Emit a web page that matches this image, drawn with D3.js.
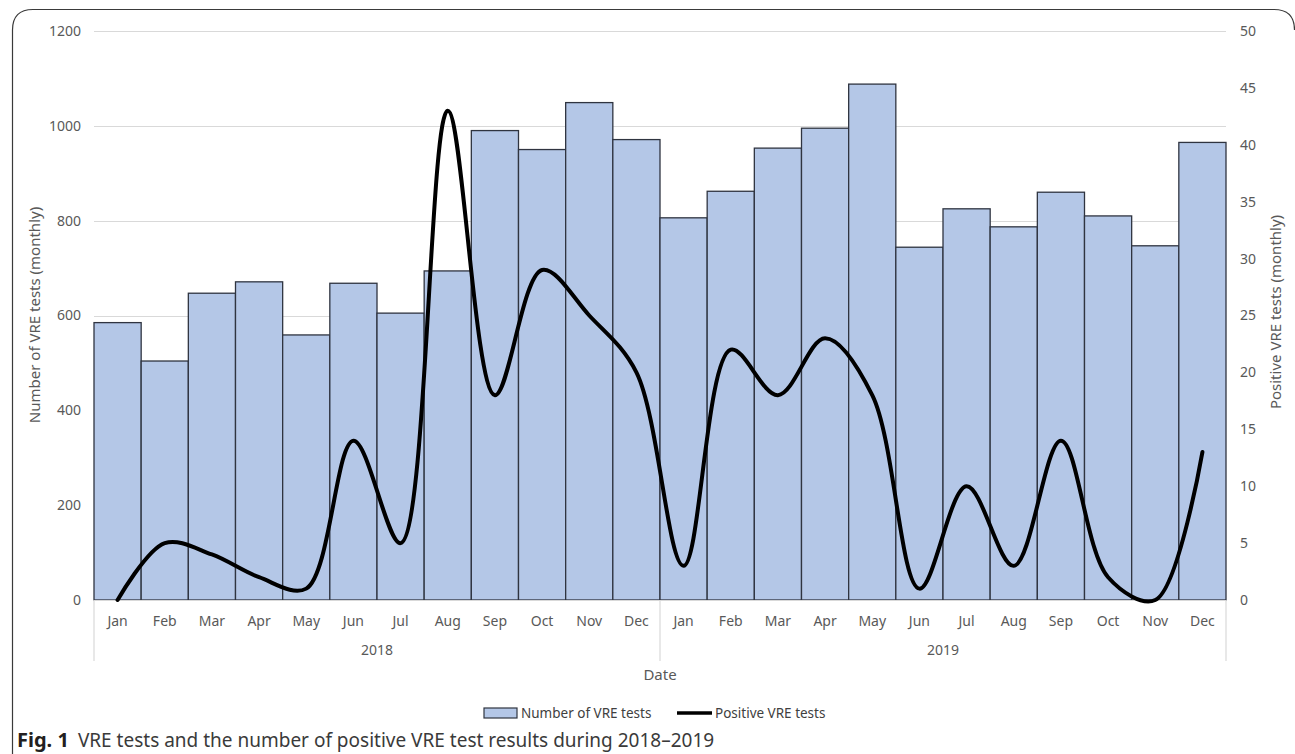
<!DOCTYPE html>
<html>
<head>
<meta charset="utf-8">
<script src="https://cdn.jsdelivr.net/npm/d3@7"></script>
<style>
  html, body { margin: 0; padding: 0; background: #fff; }
  svg { display: block; }
</style>
</head>
<body>
<svg id="chart" width="1295" height="754"></svg>
<script>
// Monthly categories grouped by year
const years = ["2018", "2019"];
const months = ["Jan", "Feb", "Mar", "Apr", "May", "Jun", "Jul", "Aug", "Sep", "Oct", "Nov", "Dec"];

// Number of VRE tests per month (bars, left axis)
const testsCount = [585, 504, 647, 671, 559, 668, 605, 694, 990, 950, 1049, 971,
                    806, 862, 953, 995, 1088, 744, 825, 787, 860, 810, 747, 965];
// Positive VRE tests per month (line, right axis)
const positiveCount = [0, 5, 4, 2, 1, 14, 5, 43, 18, 29, 25, 20,
                       3, 22, 18, 23, 18, 1, 10, 3, 14, 2, 0, 13];

const leftTicks = [0, 200, 400, 600, 800, 1000, 1200];
const rightTicks = [0, 5, 10, 15, 20, 25, 30, 35, 40, 45, 50];

const font = "'Noto Sans', 'Open Sans', sans-serif";
const svg = d3.select("#chart");

const plot = { left: 94, right: 1226, top: 31, bottom: 600 };

// Category keys: year-month
const keys = [];
years.forEach(y => months.forEach(m => keys.push(y + "-" + m)));

const x = d3.scaleBand().domain(keys).range([plot.left, plot.right]).padding(0);
const yL = d3.scaleLinear().domain([0, 1200]).range([plot.bottom, plot.top]);
const yR = d3.scaleLinear().domain([0, 50]).range([plot.bottom, plot.top]);

// Outer frame with rounded top corners
svg.append("path")
  .attr("d", "M12.5,754 L12.5,30 Q12.5,9.5 33,9.5 L1274,9.5 Q1294.5,9.5 1294.5,30")
  .attr("fill", "none").attr("stroke", "#3a3a3a").attr("stroke-width", 1.2);

// Gridlines
svg.append("g").selectAll("line").data(leftTicks.slice(1)).join("line")
  .attr("x1", plot.left).attr("x2", plot.right)
  .attr("y1", d => Math.round(yL(d)) + 0.5).attr("y2", d => Math.round(yL(d)) + 0.5)
  .attr("stroke", "#d9d9d9").attr("stroke-width", 1.2);

// Bars
svg.append("g").selectAll("rect").data(testsCount).join("rect")
  .attr("x", (d, i) => x(keys[i]))
  .attr("y", d => yL(d))
  .attr("width", x.bandwidth())
  .attr("height", d => yL(0) - yL(d))
  .attr("fill", "#b4c7e7")
  .attr("stroke", "#2f3440")
  .attr("stroke-width", 1.3);

// Category axis baseline
svg.append("line")
  .attr("x1", plot.left).attr("x2", plot.right)
  .attr("y1", plot.bottom + 0.5).attr("y2", plot.bottom + 0.5)
  .attr("stroke", "#d9d9d9").attr("stroke-width", 1.2);

// Year group separators
const sepX = [plot.left, x(keys[12]), plot.right];
svg.append("g").selectAll("line").data(sepX).join("line")
  .attr("x1", d => d).attr("x2", d => d)
  .attr("y1", plot.bottom).attr("y2", 661)
  .attr("stroke", "#d9d9d9").attr("stroke-width", 1.2);

// Positive tests line (smoothed)
const line = d3.line()
  .x((d, i) => x(keys[i]) + x.bandwidth() / 2)
  .y(d => yR(d))
  .curve(d3.curveCatmullRom.alpha(0.5));
svg.append("path")
  .datum(positiveCount)
  .attr("d", line)
  .attr("fill", "none")
  .attr("stroke", "#000")
  .attr("stroke-width", 4)
  .attr("stroke-linecap", "round")
  .attr("stroke-linejoin", "round");

const tickSize = 14;

// Left axis tick labels
svg.append("g").selectAll("text").data(leftTicks).join("text")
  .attr("x", 81).attr("y", d => yL(d)).attr("dy", "0.35em")
  .attr("text-anchor", "end")
  .attr("font-family", font).attr("font-size", tickSize).attr("fill", "#595959")
  .text(d => d);

// Right axis tick labels
svg.append("g").selectAll("text").data(rightTicks).join("text")
  .attr("x", 1240).attr("y", d => yR(d)).attr("dy", "0.35em")
  .attr("text-anchor", "start")
  .attr("font-family", font).attr("font-size", tickSize).attr("fill", "#595959")
  .text(d => d);

// Month labels
svg.append("g").selectAll("text").data(keys).join("text")
  .attr("x", d => x(d) + x.bandwidth() / 2).attr("y", 621).attr("dy", "0.35em")
  .attr("text-anchor", "middle")
  .attr("font-family", font).attr("font-size", tickSize).attr("fill", "#595959")
  .text(d => d.split("-")[1]);

// Year labels
svg.append("g").selectAll("text").data(years).join("text")
  .attr("x", (d, i) => (sepX[i] + sepX[i + 1]) / 2).attr("y", 650).attr("dy", "0.35em")
  .attr("text-anchor", "middle")
  .attr("font-family", font).attr("font-size", tickSize).attr("fill", "#595959")
  .text(d => d);

// Axis titles
svg.append("text")
  .attr("x", 660).attr("y", 675).attr("dy", "0.35em")
  .attr("text-anchor", "middle")
  .attr("font-family", font).attr("font-size", 15).attr("fill", "#595959")
  .text("Date");

svg.append("text")
  .attr("transform", "translate(35,315) rotate(-90)")
  .attr("dy", "0.35em").attr("text-anchor", "middle")
  .attr("font-family", font).attr("font-size", 15).attr("fill", "#595959")
  .text("Number of VRE tests (monthly)");

svg.append("text")
  .attr("transform", "translate(1276,312) rotate(-90)")
  .attr("dy", "0.35em").attr("text-anchor", "middle")
  .attr("font-family", font).attr("font-size", 15).attr("fill", "#595959")
  .text("Positive VRE tests (monthly)");

// Legend
const lg = svg.append("g").attr("font-family", font).attr("font-size", 13.5).attr("fill", "#404040");
lg.append("rect").attr("x", 484).attr("y", 708).attr("width", 33).attr("height", 10)
  .attr("fill", "#b4c7e7").attr("stroke", "#2f3440").attr("stroke-width", 1.2);
lg.append("text").attr("x", 521).attr("y", 713).attr("dy", "0.35em").text("Number of VRE tests");
lg.append("line").attr("x1", 677).attr("x2", 712).attr("y1", 713).attr("y2", 713)
  .attr("stroke", "#000").attr("stroke-width", 3.5);
lg.append("text").attr("x", 715).attr("y", 713).attr("dy", "0.35em").text("Positive VRE tests");

// Caption
const cap = svg.append("text").attr("x", 17).attr("y", 747)
  .attr("font-family", font).attr("font-size", 19).attr("fill", "#231f20");
cap.append("tspan").attr("font-weight", "bold").attr("font-size", 20).text("Fig. 1");
cap.append("tspan").attr("dx", 9).attr("fill", "#3a3a3a").text("VRE tests and the number of positive VRE test results during 2018–2019");
</script>
</body>
</html>
